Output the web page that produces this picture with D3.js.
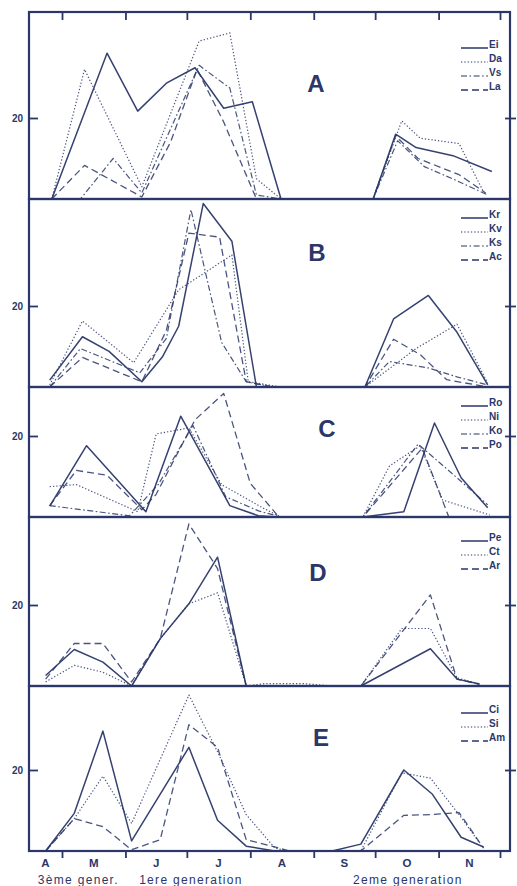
<!DOCTYPE html>
<html>
<head>
<meta charset="utf-8">
<script src="https://cdn.jsdelivr.net/npm/d3@7"></script>
<style>
  body { margin: 0; background: #fff; }
  svg { display: block; }
  text { font-family: "Liberation Sans", Arial, sans-serif; fill: #2a3768; }
</style>
</head>
<body>
<svg id="chart"></svg>
<script>
// tick labels and categories
const monthLabels = ['A', 'M', 'J', 'J', 'A', 'S', 'O', 'N'];
const monthStarts = ['05-01', '06-01', '07-01', '08-01', '09-01', '10-01', '11-01', '12-01'];
const generationLabels = [['3ème gener.', '05-09'], ['1ere generation', '07-03'], ['2eme generation', '10-17']];
const panelNames = ['A', 'B', 'C', 'D', 'E'];

// panel A
const ei = [['04-26',0],['05-23',36],['06-07',21.7],['06-21',28.6],['07-05',32.4],['07-19',22.4],['08-02',24],['08-16',0],['09-30',0],['10-11',16],['10-21',12.7],['11-08',10.7],['11-27',6.8]];
const da = [['04-26',0],['05-12',32],['06-09',3],['07-07',39],['07-22',41],['08-04',5],['08-16',0],['09-30',0],['10-14',19.3],['10-23',15],['11-11',13.7],['11-23',1.7]];
const vs = [['04-26',0],['05-10',0],['05-26',10],['06-09',1.5],['07-07',33],['07-22',27.4],['08-04',1],['08-16',0],['09-30',0],['10-12',14.4],['10-25',8],['11-10',4.5],['11-25',1]];
const la = [['04-26',0],['05-12',8.3],['06-09',0.5],['06-23',14],['07-06',32],['07-19',19],['08-04',0],['09-30',0],['10-11',15.6],['10-22',10],['11-11',6],['11-24',1.5]];

// panel B
const kr = [['04-25',1.7],['05-11',12.4],['05-24',8.8],['06-09',1.3],['06-19',7.4],['06-27',15],['07-09',45.3],['07-23',36],['08-04',0],['09-26',0],['10-10',16.8],['10-27',22.6],['11-10',13.5],['11-25',0.5]];
const kv = [['04-25',0.5],['05-11',16.3],['06-05',6],['06-27',24],['07-23',32.6],['07-31',1.3],['08-16',0],['09-26',0],['10-21',9.5],['11-10',15.5],['11-25',1]];
const ks = [['04-25',0],['05-10',9.5],['06-08',3.5],['06-21',12],['07-03',43.8],['07-18',11],['07-30',1.3],['08-12',0],['09-26',0],['10-08',6.3],['10-27',4.7],['11-10',2.5],['11-25',0.5]];
const ac = [['04-25',0],['05-11',7.3],['06-09',1.3],['06-21',14],['07-02',38],['07-17',37],['07-30',1.3],['08-12',0],['09-26',0],['10-10',11.8],['10-23',8],['11-05',1.8],['11-25',0]];

// panel C
const ro = [['04-25',2.7],['05-13',17.6],['06-11',1.3],['06-28',24.9],['07-22',2.8],['08-05',0.3],['08-14',0],['09-25',0],['10-15',1.3],['10-30',23.2],['11-12',9.7],['11-25',2.3]];
const ni = [['04-25',7.5],['05-08',8],['06-07',1.3],['06-16',20.5],['07-02',22],['07-18',8],['08-08',2],['08-16',0],['09-25',0],['10-08',12.6],['10-23',17.6],['11-03',4.2],['11-26',0.5]];
const ko = [['04-25',2.8],['06-03',0.3],['06-17',8],['07-04',22.6],['07-20',5],['08-05',1.5],['08-16',0],['09-25',0],['10-22',18],['11-07',11],['11-25',3]];
const po = [['04-25',2.8],['05-08',11.5],['05-23',10.3],['06-09',1.8],['06-16',5.6],['07-05',24],['07-19',30.5],['08-01',8.3],['08-15',0],['09-25',0],['10-24',17],['11-06',0]];

// panel D
const pe = [['04-23',2.6],['05-07',9],['05-21',5.9],['06-04',0],['06-18',11.7],['07-02',20.3],['07-16',31.8],['07-30',0],['09-24',0],['10-28',9.2],['11-10',1.7],['11-21',0.5]];
const ct = [['04-23',1],['05-07',5.1],['05-21',3.4],['06-04',0],['06-18',11.7],['07-02',20.3],['07-16',23],['07-30',0],['08-08',0.6],['08-27',0.6],['09-10',0],['09-24',0],['10-14',14.2],['10-28',14.2],['11-10',2],['11-21',0.5]];
const ar = [['04-23',1.7],['05-07',10.5],['05-21',10.5],['06-04',1],['06-18',11.7],['07-02',40],['07-16',29],['07-30',0],['09-24',0],['10-28',22.5],['11-10',1.7],['11-21',0.4]];

// panel E
const ci = [['04-23',0],['05-07',9.3],['05-21',29.6],['06-04',2.5],['07-02',25.6],['07-16',7.6],['07-30',1.2],['08-13',0],['09-10',0],['09-24',1.7],['10-15',20],['10-29',14],['11-12',3.4],['11-23',1]];
const si = [['04-23',0],['05-07',8],['05-21',18.5],['06-04',6.8],['07-02',38.5],['07-16',24.5],['07-30',9],['08-13',0.7],['08-20',0],['09-24',0],['10-14',19.3],['10-28',18],['11-11',9],['11-21',2]];
const am = [['04-23',0],['05-07',8],['05-21',6],['06-04',0.3],['06-18',2.8],['07-02',31.2],['07-16',25.6],['07-30',2.8],['08-13',1],['08-20',0],['09-24',0],['10-15',8.8],['10-29',9],['11-11',9.5],['11-23',0.7]];

const panels = [
  { name: 'A', series: [['Ei', 'solid', ei], ['Da', 'dot', da], ['Vs', 'dashdot', vs], ['La', 'dash', la]] },
  { name: 'B', series: [['Kr', 'solid', kr], ['Kv', 'dot', kv], ['Ks', 'dashdot', ks], ['Ac', 'dash', ac]] },
  { name: 'C', series: [['Ro', 'solid', ro], ['Ni', 'dot', ni], ['Ko', 'dashdot', ko], ['Po', 'dash', po]] },
  { name: 'D', series: [['Pe', 'solid', pe], ['Ct', 'dot', ct], ['Ar', 'dash', ar]] },
  { name: 'E', series: [['Ci', 'solid', ci], ['Si', 'dot', si], ['Am', 'dash', am]] }
];

// layout
const width = 517, height = 886;
const left = 29, right = 510;
const bounds = [12, 199, 387, 517, 686, 851];
const pxPerUnit = 4.05;
const letterPos = [[316, 92], [317, 261], [327, 437], [318, 581], [321, 746]];
const legendTop = [48, 218, 406, 541, 713];
const ink = '#2a3768';
const dashes = { solid: null, dot: '1.3,2', dashdot: '6,2.5,1.6,2.5', dash: '7,4' };
const widths = { solid: 1.5, dot: 1.2, dashdot: 1.2, dash: 1.3 };

const parse = d3.timeParse('%Y-%m-%d');
const day = s => parse('1981-' + s);

const svg = d3.select('#chart').attr('width', width).attr('height', height);

const x = d3.scaleTime()
  .domain([day('05-01'), day('12-01')])
  .range([62, 500]);

panels.forEach((p, i) => {
  const top = bounds[i], bottom = bounds[i + 1];
  const y = d3.scaleLinear()
    .domain([0, (bottom - top) / pxPerUnit])
    .range([bottom, top]);

  const g = svg.append('g');

  g.append('rect')
    .attr('x', left).attr('y', top)
    .attr('width', right - left).attr('height', bottom - top)
    .attr('fill', 'none').attr('stroke', ink).attr('stroke-width', 2.2);

  const line = d3.line()
    .x(d => x(day(d[0])))
    .y(d => y(d[1]));

  p.series.forEach(([name, style, data]) => {
    g.append('path')
      .datum(data)
      .attr('d', line)
      .attr('fill', 'none')
      .attr('stroke', ink)
      .attr('stroke-opacity', style === 'solid' ? 0.95 : 0.85)
      .attr('stroke-width', widths[style])
      .attr('stroke-dasharray', dashes[style])
      .attr('stroke-linejoin', 'round');
  });

  // 20 tick, left and right
  const yl = g.append('g')
    .attr('transform', `translate(${left},0)`)
    .call(d3.axisLeft(y).tickValues([20]).tickSize(-9).tickPadding(6));
  yl.select('.domain').remove();
  yl.selectAll('line').attr('stroke', ink).attr('stroke-width', 1.8);
  yl.selectAll('text').attr('font-size', 10).attr('font-weight', 'bold').attr('fill', ink);

  const yr = g.append('g')
    .attr('transform', `translate(${right - 5},0)`)
    .call(d3.axisRight(y).tickValues([20]).tickSize(11).tickFormat(''));
  yr.select('.domain').remove();
  yr.selectAll('line').attr('stroke', ink).attr('stroke-width', 1.8);

  // panel letter
  g.append('text')
    .attr('x', letterPos[i][0]).attr('y', letterPos[i][1])
    .attr('text-anchor', 'middle')
    .attr('font-size', 24).attr('font-weight', 'bold')
    .text(p.name);

  // legend
  p.series.forEach(([name, style], k) => {
    const ly = legendTop[i] + k * 14;
    g.append('line')
      .attr('x1', 461).attr('x2', 488).attr('y1', ly).attr('y2', ly)
      .attr('stroke', ink).attr('stroke-width', widths[style])
      .attr('stroke-dasharray', dashes[style]);
    g.append('text')
      .attr('x', 489).attr('y', ly)
      .attr('font-size', 10).attr('font-weight', 'bold')
      .text(name);
  });
});

// month ticks at the top of panel A
const topAxis = svg.append('g')
  .attr('transform', `translate(0,${bounds[0]})`)
  .call(d3.axisBottom(x).tickValues(monthStarts.map(day)).tickSize(8).tickFormat(''));
topAxis.select('.domain').remove();
topAxis.selectAll('line').attr('stroke', ink).attr('stroke-width', 1.8);

// bottom axis
const bottomY = bounds[bounds.length - 1];
const bottomAxis = svg.append('g')
  .attr('transform', `translate(0,${bottomY})`)
  .call(d3.axisBottom(x).tickValues(monthStarts.map(day)).tickSize(7).tickFormat(''));
bottomAxis.select('.domain').remove();
bottomAxis.selectAll('line').attr('stroke', ink).attr('stroke-width', 1.8);

const edges = [left, ...monthStarts.map(s => x(day(s)))];
svg.append('g').selectAll('text')
  .data(monthLabels)
  .join('text')
  .attr('x', (d, i) => (edges[i] + edges[i + 1]) / 2)
  .attr('y', bottomY + 16)
  .attr('text-anchor', 'middle')
  .attr('font-size', 11.5).attr('font-weight', 'bold')
  .text(d => d);

svg.append('g').selectAll('text')
  .data(generationLabels)
  .join('text')
  .attr('x', d => x(day(d[1])))
  .attr('y', bottomY + 33)
  .attr('text-anchor', 'middle')
  .attr('font-size', 12)
  .attr('letter-spacing', 1.3)
  .text(d => d[0]);
</script>
</body>
</html>
